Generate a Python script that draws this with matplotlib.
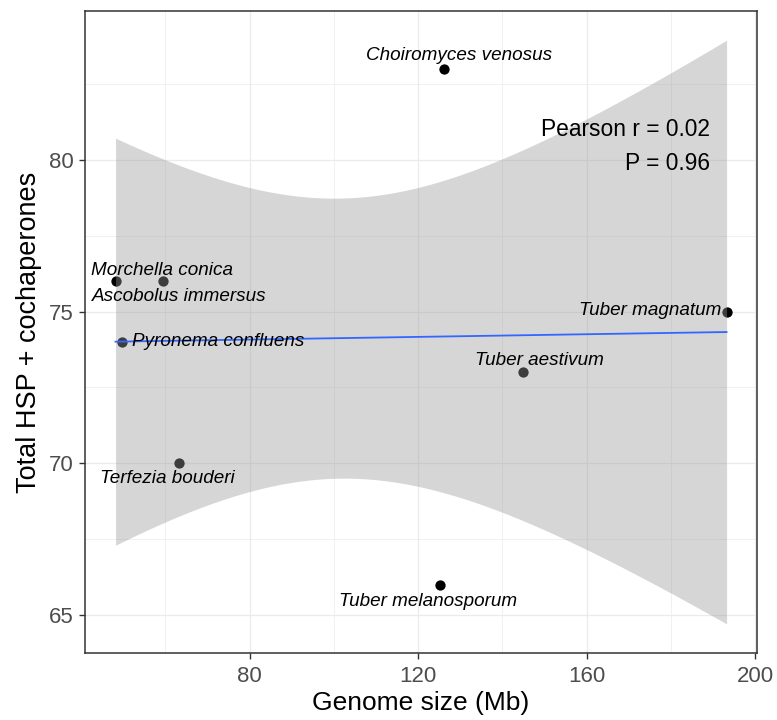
import matplotlib.pyplot as plt
import numpy as np

species = ["Choiromyces venosus", "Morchella conica", "Ascobolus immersus",
           "Pyronema confluens", "Tuber magnatum", "Tuber aestivum",
           "Terfezia bouderi", "Tuber melanosporum"]
genome_mb = [126.2, 48.2, 59.4, 49.7, 193.2, 145.0, 63.2, 125.1]
total_hsp = [83, 76, 76, 74, 75, 73, 70, 66]
label_x = [129.8, 59.3, 63.4, 72.5, 175.1, 148.8, 60.6, 122.3]
label_y = [83.44, 76.37, 75.51, 74.0, 75.02, 73.39, 69.49, 65.45]

plt.rcParams['font.family'] = ['Liberation Sans', 'DejaVu Sans']

x = np.array(genome_mb)
y = np.array(total_hsp)
n = len(x)

# linear fit + 95% confidence band (like geom_smooth(method="lm"))
slope, intercept = np.polyfit(x, y, 1)
xs = np.linspace(x.min(), x.max(), 200)
fit = intercept + slope * xs
resid = y - (intercept + slope * x)
s = np.sqrt(np.sum(resid ** 2) / (n - 2))
sxx = np.sum((x - x.mean()) ** 2)
se = s * np.sqrt(1.0 / n + (xs - x.mean()) ** 2 / sxx)
tcrit = 2.446912  # t(0.975, df=6)
lo = fit - tcrit * se
hi = fit + tcrit * se

fig = plt.figure(figsize=(7.77, 7.2), dpi=100)
ax = fig.add_axes([0.1094, 0.093, 0.865, 0.8917])

ax.scatter(x, y, s=55, color='black', zorder=2, linewidths=0)
ax.fill_between(xs, lo, hi, color='#999999', alpha=0.4, linewidth=0, zorder=3)
ax.plot(xs, fit, color='#3366FF', linewidth=1.3, zorder=4)

for name, lx, ly in zip(species, label_x, label_y):
    ax.text(lx, ly, name, style='italic', fontsize=13.6, ha='center',
            va='center', color='black', zorder=5)

ax.text(189.3, 81.0, "Pearson r = 0.02", fontsize=16.4, ha='right', va='center', zorder=5)
ax.text(189.3, 79.88, "P = 0.96", fontsize=16.4, ha='right', va='center', zorder=5)

# ggplot-style 5% expansion
xr = x.max() - x.min()
ax.set_xlim(x.min() - 0.05 * xr, x.max() + 0.05 * xr)
ymin = min(y.min(), lo.min())
ymax = max(y.max(), hi.max())
yr = ymax - ymin
ax.set_ylim(ymin - 0.05 * yr, ymax + 0.05 * yr)

ax.set_xticks([80, 120, 160, 200])
ax.set_yticks([65, 70, 75, 80])
ax.set_xticks([60, 100, 140, 180], minor=True)
ax.set_yticks([67.5, 72.5, 77.5, 82.5], minor=True)
ax.grid(True, which='major', color='#EBEBEB', linewidth=0.9, zorder=0)
ax.grid(True, which='minor', color='#EBEBEB', linewidth=0.5, zorder=0)
ax.set_axisbelow(True)
ax.tick_params(which='major', length=4, width=1, color='#333333',
               labelsize=16, labelcolor='#4D4D4D')
ax.tick_params(axis='x', pad=5)
ax.tick_params(axis='y', pad=4)
ax.tick_params(which='minor', length=0)
for sp in ax.spines.values():
    sp.set_color('#333333')
    sp.set_linewidth(1.1)

ax.set_xlabel("Genome size (Mb)", fontsize=19, labelpad=3)
ax.set_ylabel("Total HSP + cochaperones", fontsize=19.5, labelpad=5)

fig.savefig("out.png", dpi=100)
